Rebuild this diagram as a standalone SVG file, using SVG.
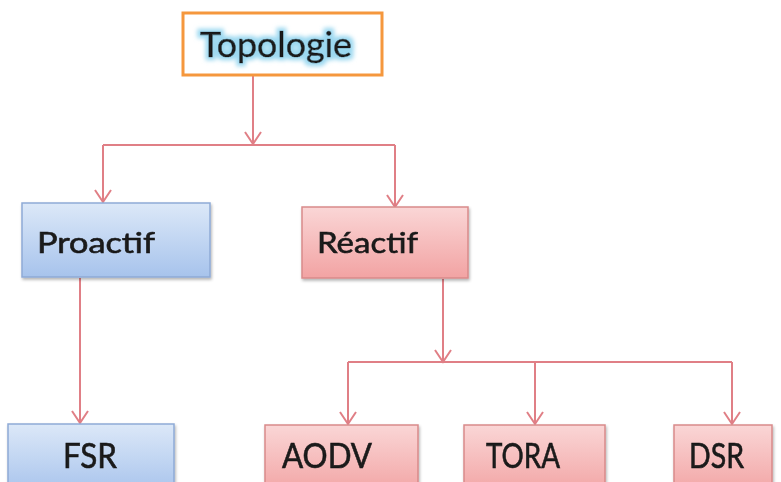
<svg xmlns="http://www.w3.org/2000/svg" width="781" height="482" viewBox="0 0 781 482">
<style>
.lbl{font-family:Lato,"Liberation Sans",sans-serif;fill:#1a1a1a;stroke:#1a1a1a;stroke-width:0.6;}
.blue{fill:url(#gBlue);stroke:#8eaad6;stroke-width:1.5;}
.red{fill:url(#gRed);stroke:#d98a8a;stroke-width:1.5;}
.conn{fill:none;stroke:#e07f86;stroke-width:2;}
.head{fill:none;stroke:#e07f86;stroke-width:2;stroke-linejoin:miter;}
</style>
<defs>
<linearGradient id="gBlue" x1="0" y1="0" x2="0" y2="1">
<stop offset="0" stop-color="#dce8f8"/>
<stop offset="1" stop-color="#a7c3ec"/>
</linearGradient>
<linearGradient id="gRed" x1="0" y1="0" x2="0" y2="1">
<stop offset="0" stop-color="#fad6d6"/>
<stop offset="1" stop-color="#f2a3a3"/>
</linearGradient>
<filter id="shadow" x="-10%" y="-10%" width="120%" height="130%">
<feGaussianBlur in="SourceAlpha" stdDeviation="1.5"/>
<feOffset dx="1" dy="2" result="b"/>
<feComponentTransfer><feFuncA type="linear" slope="0.3"/></feComponentTransfer>
<feMerge><feMergeNode/><feMergeNode in="SourceGraphic"/></feMerge>
</filter>
<filter id="glow" x="-20%" y="-40%" width="140%" height="180%">
<feMorphology in="SourceAlpha" operator="dilate" radius="3" result="d"/>
<feFlood flood-color="#9bd8f0"/>
<feComposite in2="d" operator="in"/>
<feGaussianBlur stdDeviation="2"/>
<feMerge><feMergeNode/><feMergeNode in="SourceGraphic"/></feMerge>
</filter>
</defs>
<g id="connectors">
<path class="conn" d="M253,76 V144"/>
<path class="conn" d="M103,145 H395"/>
<path class="conn" d="M103,145 V201"/>
<path class="conn" d="M395,145 V206"/>
<path class="conn" d="M80,278 V422"/>
<path class="conn" d="M443,279 V361"/>
<path class="conn" d="M348,362 H732"/>
<path class="conn" d="M348,362 V423"/>
<path class="conn" d="M535,362 V423"/>
<path class="conn" d="M732,362 V423"/>
<path class="head" d="M245,132 L253,144 L261,132"/>
<path class="head" d="M95,190 L103,202 L111,190"/>
<path class="head" d="M387,195 L395,207 L403,195"/>
<path class="head" d="M72,411 L80,423 L88,411"/>
<path class="head" d="M435,350 L443,362 L451,350"/>
<path class="head" d="M340,412 L348,424 L356,412"/>
<path class="head" d="M527,412 L535,424 L543,412"/>
<path class="head" d="M724,412 L732,424 L740,412"/>
</g>
<g id="topologie">
<rect x="183" y="13" width="199" height="62" fill="#ffffff" stroke="#f5973d" stroke-width="3"/>
<text class="lbl" x="200" y="57" font-size="35" textLength="152" lengthAdjust="spacingAndGlyphs" filter="url(#glow)">Topologie</text>
</g>
<g id="proactif" filter="url(#shadow)">
<rect class="blue" x="22" y="203" width="188" height="74"/>
<text class="lbl" x="37" y="253" font-size="29" textLength="118" lengthAdjust="spacingAndGlyphs">Proactif</text>
</g>
<g id="reactif" filter="url(#shadow)">
<rect class="red" x="302" y="207" width="166" height="71"/>
<text class="lbl" x="317" y="253" font-size="29" textLength="101" lengthAdjust="spacingAndGlyphs">Réactif</text>
</g>
<g id="fsr" filter="url(#shadow)">
<rect class="blue" x="8" y="424" width="166" height="70"/>
<text class="lbl" x="63" y="468" font-size="34" textLength="54" lengthAdjust="spacingAndGlyphs">FSR</text>
</g>
<g id="aodv" filter="url(#shadow)">
<rect class="red" x="265" y="425" width="153" height="70"/>
<text class="lbl" x="282" y="468" font-size="34" textLength="90" lengthAdjust="spacingAndGlyphs">AODV</text>
</g>
<g id="tora" filter="url(#shadow)">
<rect class="red" x="464" y="425" width="141" height="70"/>
<text class="lbl" x="486" y="468" font-size="34" textLength="74" lengthAdjust="spacingAndGlyphs">TORA</text>
</g>
<g id="dsr" filter="url(#shadow)">
<rect class="red" x="674" y="425" width="98" height="70"/>
<text class="lbl" x="689" y="468" font-size="34" textLength="55" lengthAdjust="spacingAndGlyphs">DSR</text>
</g>
</svg>
